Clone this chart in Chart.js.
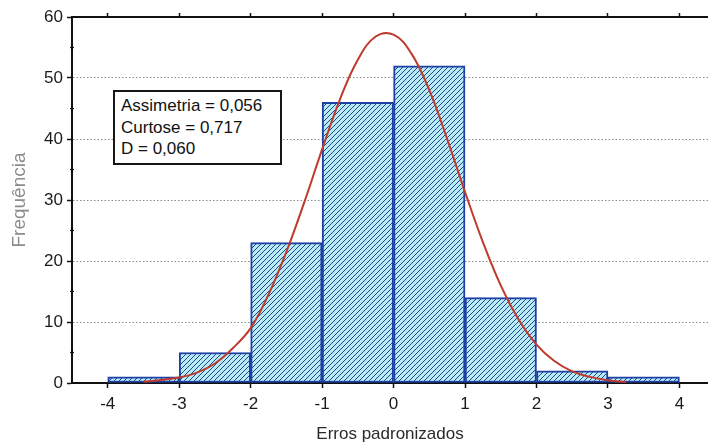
<!DOCTYPE html>
<html>
<head>
<meta charset="utf-8">
<script src="https://cdn.jsdelivr.net/npm/chart.js@4"></script>
<style>
  html, body { margin: 0; padding: 0; background: #fff; }
  #wrap { position: relative; width: 708px; height: 445px; }
  #stats {
    position: absolute; left: 113px; top: 90px; width: 159px; height: 68px;
    border: 2px solid #161616; background: #fff;
    font-family: "Liberation Sans", Arial, sans-serif; font-size: 17px; line-height: 21.5px;
    color: #111; padding: 3px 0 0 6px; box-sizing: content-box;
  }
  #stats div { white-space: nowrap; }
</style>
</head>
<body>
<div id="wrap">
  <canvas id="c" width="708" height="445"></canvas>
  <div id="stats"></div>
</div>
<script>
// ---- data ----
const binCenters = [-3.5, -2.5, -1.5, -0.5, 0.5, 1.5, 2.5, 3.5];
const frequencies = [1, 5, 23, 46, 52, 14, 2, 1];
const curveX = [-3.5, -3, -2.75, -2.5, -2.25, -2, -1.75, -1.5, -1.25, -1, -0.75, -0.5, -0.25, 0, 0.25, 0.5, 0.75, 1, 1.25, 1.5, 1.75, 2, 2.25, 2.5, 2.75, 3, 3.25];
const curveY = [0.2, 0.9, 1.7, 3.2, 5.7, 9.0, 14.5, 21.5, 29.6, 38.3, 46.5, 53.0, 56.8, 57.1, 54.0, 48.0, 40.0, 31.3, 23.1, 16.0, 10.4, 6.3, 3.6, 1.9, 1.0, 0.45, 0.15];
const xTicks = [-4, -3, -2, -1, 0, 1, 2, 3, 4];
const yTicks = [0, 10, 20, 30, 40, 50, 60];
const statLines = ["Assimetria = 0,056", "Curtose = 0,717", "D = 0,060"];
const xTitle = "Erros padronizados";
const yTitle = "Frequência";

document.getElementById('stats').innerHTML = statLines.map(s => '<div>' + s + '</div>').join('');

// hatch pattern
function makePattern() {
  const p = document.createElement('canvas');
  const s = 5;
  p.width = s; p.height = s;
  const g = p.getContext('2d');
  g.fillStyle = '#b8ecf5';
  g.fillRect(0, 0, s, s);
  g.strokeStyle = '#24438f';
  g.lineWidth = 1.0;
  g.beginPath();
  g.moveTo(-1, s + 1); g.lineTo(s + 1, -1);
  g.moveTo(-1, 1); g.lineTo(1, -1);
  g.moveTo(s - 1, s + 1); g.lineTo(s + 1, s - 1);
  g.stroke();
  return g.createPattern(p, 'repeat');
}
const ctx = document.getElementById('c').getContext('2d');
const hatch = makePattern();

const FONT = "'Liberation Sans', Arial, sans-serif";

const minorTicks = {
  id: 'minorTicks',
  afterDatasetsDraw(chart) {
    const y = chart.scales.y;
    const c = chart.ctx;
    c.save();
    c.strokeStyle = '#111';
    c.lineWidth = 1.2;
    for (let i = 0; i < yTicks.length - 1; i++) {
      const v = (yTicks[i] + yTicks[i + 1]) / 2;
      const py = y.getPixelForValue(v);
      c.beginPath();
      c.moveTo(y.right - 2, py);
      c.lineTo(y.right + 2, py);
      c.stroke();
    }
    c.restore();
  }
};

new Chart(ctx, {
  type: 'bar',
  data: {
    datasets: [
      {
        type: 'line',
        data: curveX.map((x, i) => ({ x: x, y: curveY[i] })),
        borderColor: '#bf3a2c',
        borderWidth: 2,
        pointRadius: 0,
        tension: 0.4,
        fill: false,
        order: 0,
        xAxisID: 'x',
        yAxisID: 'y'
      },
      {
        type: 'bar',
        data: binCenters.map((x, i) => ({ x: x, y: frequencies[i] })),
        backgroundColor: hatch,
        borderColor: '#1e3fa3',
        borderWidth: 2,
        borderSkipped: false,
        barPercentage: 1,
        categoryPercentage: 1,
        order: 1,
        xAxisID: 'x',
        yAxisID: 'y'
      }
    ]
  },
  options: {
    responsive: false,
    animation: false,
    events: [],
    layout: { padding: { left: 0, right: 0, top: 0, bottom: 0 } },
    plugins: { legend: { display: false }, tooltip: { enabled: false } },
    scales: {
      x: {
        type: 'linear',
        position: 'bottom',
        offset: false,
        min: -4.5, max: 4.4,
        afterFit(s) { s.height = 62; },
        afterBuildTicks(s) { s.ticks = xTicks.map(v => ({ value: v })); },
        ticks: { font: { family: FONT, size: 17 }, color: '#1a1a1a', padding: 6, maxRotation: 0 },
        grid: { offset: false, drawOnChartArea: false, drawTicks: true, tickLength: 5, tickColor: '#111', tickWidth: 1.5 },
        border: { display: true, color: '#111', width: 2 },
        title: { display: true, text: xTitle, font: { family: FONT, size: 17 }, color: '#2a2a2a', padding: { top: 6, bottom: 0 } }
      },
      x2: {
        type: 'linear',
        position: 'top',
        offset: false,
        min: -4.5, max: 4.4,
        afterFit(s) { s.height = 17; },
        afterBuildTicks(s) { s.ticks = xTicks.map(v => ({ value: v })); },
        ticks: { display: false },
        grid: { offset: false, drawOnChartArea: false, drawTicks: true, tickLength: 4, tickColor: '#111', tickWidth: 1.5 },
        border: { display: true, color: '#111', width: 2 }
      },
      y: {
        min: 0, max: 60,
        afterFit(s) { s.width = 72; },
        afterBuildTicks(s) { s.ticks = yTicks.map(v => ({ value: v })); },
        ticks: { font: { family: FONT, size: 17 }, color: '#1a1a1a', padding: 4 },
        grid: {
          color: c => (c.tick && (c.tick.value === 0 || c.tick.value === 60)) ? 'rgba(0,0,0,0)' : '#8a8a8a',
          lineWidth: 1,
          drawTicks: true, tickLength: 5, tickColor: '#111', tickWidth: 1.5, tickBorderDash: []
        },
        border: { display: true, color: '#111', width: 2, dash: [1.5, 2] },
        title: { display: true, text: yTitle, font: { family: FONT, size: 19 }, color: '#8c8c8c', padding: { top: 8, bottom: 0 } }
      }
    }
  },
  plugins: [minorTicks]
});
</script>
</body>
</html>
